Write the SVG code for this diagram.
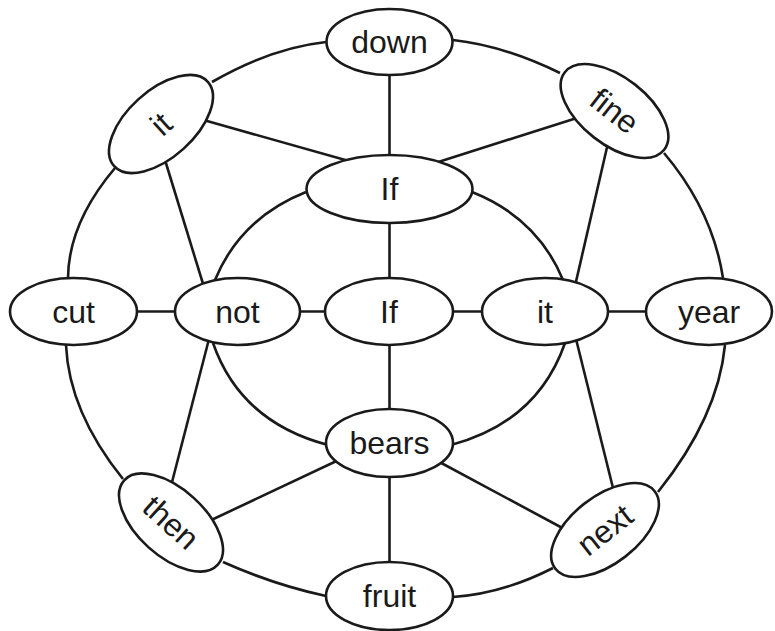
<svg xmlns="http://www.w3.org/2000/svg" width="775" height="631" viewBox="0 0 775 631">
<style>
.e{fill:#fff;stroke:#1a1a1a;stroke-width:2.6}
.c{fill:none;stroke:#1a1a1a;stroke-width:2.6}
.t{font-family:"Liberation Sans",Arial,sans-serif;font-size:32px;fill:#1a1a1a;text-anchor:middle}
</style>
<rect width="775" height="631" fill="#fff"/>
<g id="connectors">
<!-- outer ring -->
<path class="c" d="M212,82 Q271,48 326,42"/>
<path class="c" d="M453,40 Q503.5,45.5 560,73"/>
<path class="c" d="M664,153 Q712.5,210.5 723,278"/>
<path class="c" d="M725,345 Q718,417 658,492"/>
<path class="c" d="M553,568 Q503,593.5 453,597"/>
<path class="c" d="M326,596 Q274.5,585 223,562"/>
<path class="c" d="M123,479 Q69,412 66,345"/>
<path class="c" d="M68,278 Q68.5,223 115,168"/>
<!-- inner ring -->
<path class="c" d="M306,192 Q240.5,218 215,280"/>
<path class="c" d="M472,192 Q537.5,218 563,280"/>
<path class="c" d="M213,343 Q240.5,422 328,445"/>
<path class="c" d="M565,343 Q537.5,422 451,445"/>
<!-- spokes -->
<line class="c" x1="389.5" y1="70" x2="389.5" y2="160"/>
<line class="c" x1="389.5" y1="218" x2="389.5" y2="283"/>
<line class="c" x1="389.5" y1="340" x2="389.5" y2="414"/>
<line class="c" x1="389.5" y1="472" x2="389.5" y2="567"/>
<line class="c" x1="132" y1="311.5" x2="180" y2="311.5"/>
<line class="c" x1="295" y1="311.5" x2="330" y2="311.5"/>
<line class="c" x1="448" y1="311.5" x2="487" y2="311.5"/>
<line class="c" x1="603" y1="311.5" x2="651" y2="311.5"/>
<line class="c" x1="200" y1="119" x2="356" y2="163"/>
<line class="c" x1="165" y1="160" x2="204" y2="287"/>
<line class="c" x1="580" y1="117" x2="432" y2="164"/>
<line class="c" x1="608" y1="143" x2="575" y2="286"/>
<line class="c" x1="209" y1="339" x2="171" y2="486"/>
<line class="c" x1="345" y1="457" x2="205" y2="523"/>
<line class="c" x1="576" y1="339" x2="614" y2="492"/>
<line class="c" x1="432" y1="458" x2="568" y2="531"/>
</g>
<g id="node-down"><ellipse class="e" cx="389.5" cy="42" rx="63" ry="33"/><text class="t" x="389.5" y="53">down</text></g>
<g id="node-if-top"><ellipse class="e" cx="389.5" cy="189" rx="83" ry="34"/><text class="t" x="389.5" y="200">If</text></g>
<g id="node-if-center"><ellipse class="e" cx="389" cy="311.5" rx="64" ry="33.5"/><text class="t" x="389" y="322.5">If</text></g>
<g id="node-bears"><ellipse class="e" cx="389.5" cy="443" rx="63.5" ry="34"/><text class="t" x="389.5" y="454">bears</text></g>
<g id="node-fruit"><ellipse class="e" cx="389.5" cy="596" rx="63.5" ry="34"/><text class="t" x="389.5" y="607">fruit</text></g>
<g id="node-cut"><ellipse class="e" cx="73.5" cy="311.5" rx="63.5" ry="33.5"/><text class="t" x="73.5" y="322.5">cut</text></g>
<g id="node-not"><ellipse class="e" cx="237.5" cy="311.5" rx="62.5" ry="33.5"/><text class="t" x="237.5" y="322.5">not</text></g>
<g id="node-it-mid"><ellipse class="e" cx="545" cy="311.5" rx="63" ry="33.5"/><text class="t" x="545" y="322.5">it</text></g>
<g id="node-year"><ellipse class="e" cx="709" cy="311.5" rx="63" ry="33.5"/><text class="t" x="709" y="322.5">year</text></g>
<g id="node-it-top" transform="translate(161,124) rotate(-42)"><ellipse class="e" cx="0" cy="0" rx="63" ry="33.5"/><text class="t" x="0" y="11">it</text></g>
<g id="node-fine" transform="translate(614.5,111) rotate(38)"><ellipse class="e" cx="0" cy="0" rx="63" ry="33.5"/><text class="t" x="0" y="11">fine</text></g>
<g id="node-then" transform="translate(171,522.5) rotate(42)"><ellipse class="e" cx="0" cy="0" rx="63" ry="33.5"/><text class="t" x="0" y="11">then</text></g>
<g id="node-next" transform="translate(605,530) rotate(-38)"><ellipse class="e" cx="0" cy="0" rx="63" ry="33.5"/><text class="t" x="0" y="11">next</text></g>
</svg>
